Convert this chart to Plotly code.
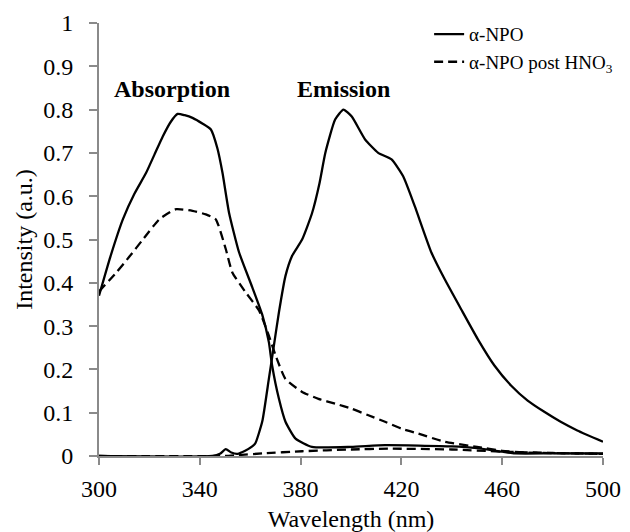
import plotly.graph_objects as go

# Absorption spectra
abs_x = [300, 304.5, 309.5, 314, 318.7, 322, 325.3, 328.5, 331.2, 334, 337.1, 341, 344.4, 347, 349, 351.6, 355.6, 360.8, 364.8, 367.4, 368.7, 371.4, 374, 378, 384.5, 400, 413.5, 440, 450, 460, 465, 480, 500]
abs_solid = [0.37, 0.46, 0.547, 0.605, 0.654, 0.696, 0.738, 0.772, 0.79, 0.787, 0.781, 0.768, 0.754, 0.71, 0.654, 0.562, 0.47, 0.39, 0.326, 0.263, 0.209, 0.132, 0.079, 0.040, 0.021, 0.021, 0.025, 0.022, 0.018, 0.010, 0.006, 0.006, 0.006]

absd_x = [300, 306.9, 312, 317.4, 324, 330.6, 337.1, 342.4, 346.3, 350.3, 352.9, 358.2, 363.5, 367.4, 370.1, 374, 380.6, 387.1, 393.7, 400.3, 406.9, 413.5, 420.1, 426.6, 437, 450, 460, 470, 500]
abs_dashed = [0.38, 0.424, 0.46, 0.50, 0.547, 0.57, 0.566, 0.558, 0.547, 0.478, 0.424, 0.378, 0.336, 0.278, 0.232, 0.178, 0.148, 0.132, 0.121, 0.109, 0.094, 0.079, 0.063, 0.052, 0.033, 0.021, 0.012, 0.008, 0.005]

# Emission spectra
em_x = [300, 345, 348, 350.3, 352.5, 355, 358, 360.8, 362.1, 364.8, 367.4, 369.4, 371.4, 374, 376.6, 380.6, 384.5, 387.5, 389.8, 393.7, 397, 400.3, 405.6, 410.8, 416.1, 420.7, 425.3, 431.9, 437.2, 443.7, 450.3, 456.9, 463.5, 470.1, 476.7, 483.2, 489.8, 500]
em_solid = [0.0, 0.0, 0.005, 0.016, 0.008, 0.005, 0.012, 0.022, 0.03, 0.08, 0.178, 0.255, 0.332, 0.416, 0.462, 0.5, 0.56, 0.63, 0.70, 0.777, 0.80, 0.784, 0.731, 0.70, 0.685, 0.646, 0.577, 0.47, 0.408, 0.339, 0.27, 0.209, 0.163, 0.128, 0.102, 0.079, 0.059, 0.033]

emd_x = [300, 350, 355, 365, 380.6, 400, 414.8, 440, 460, 480, 500]
em_dashed = [0.0, 0.0, 0.002, 0.006, 0.011, 0.015, 0.017, 0.015, 0.010, 0.007, 0.005]

x_ticks = [300, 340, 380, 420, 460, 500]
y_ticks = [0, 0.1, 0.2, 0.3, 0.4, 0.5, 0.6, 0.7, 0.8, 0.9, 1]
y_tick_text = ["0", "0.1", "0.2", "0.3", "0.4", "0.5", "0.6", "0.7", "0.8", "0.9", "1"]

label_solid = "α-NPO"
label_dashed = "α-NPO post HNO<sub>3</sub>"

FONT = "Liberation Serif, Times New Roman, serif"
AXC = "#8a8a8a"
LW = 2.3
SM = 0.5
DASH = "9px,5px"

fig = go.Figure()
fig.add_trace(go.Scatter(x=abs_x, y=abs_solid, mode="lines", name=label_solid,
                         line=dict(color="black", width=LW, shape="spline", smoothing=SM),
                         legendgroup="s"))
fig.add_trace(go.Scatter(x=em_x, y=em_solid, mode="lines", name=label_solid, showlegend=False,
                         line=dict(color="black", width=LW, shape="spline", smoothing=SM),
                         legendgroup="s"))
fig.add_trace(go.Scatter(x=absd_x, y=abs_dashed, mode="lines", name=label_dashed,
                         line=dict(color="black", width=LW, dash=DASH, shape="spline", smoothing=SM),
                         legendgroup="d"))
fig.add_trace(go.Scatter(x=emd_x, y=em_dashed, mode="lines", name=label_dashed, showlegend=False,
                         line=dict(color="black", width=LW, dash=DASH, shape="spline", smoothing=SM),
                         legendgroup="d"))

fig.add_annotation(x=328.8, y=0.848, text="<b>Absorption</b>", showarrow=False,
                   font=dict(family=FONT, size=24, color="black"))
fig.add_annotation(x=396.9, y=0.848, text="<b>Emission</b>", showarrow=False,
                   font=dict(family=FONT, size=24, color="black"))

fig.update_layout(
    width=630, height=532,
    margin=dict(l=99, r=24, t=23, b=76),
    paper_bgcolor="white", plot_bgcolor="white",
    font=dict(family=FONT, size=24, color="black"),
    showlegend=True,
    legend=dict(x=0.655, y=1.018, xanchor="left", yanchor="top",
                font=dict(family=FONT, size=19, color="black"),
                bgcolor="rgba(0,0,0,0)", itemwidth=30, tracegroupgap=0),
    xaxis=dict(range=[300, 500], tickvals=x_ticks, showgrid=False, zeroline=False,
               showline=True, linecolor=AXC, linewidth=1.8, ticks="outside",
               tickcolor=AXC, ticklen=7, tickwidth=1.5, automargin=False,
               ticklabelstandoff=3,
               title=dict(text="Wavelength (nm)", standoff=9, font=dict(size=24)),
               tickfont=dict(size=24)),
    yaxis=dict(range=[0, 1], tickvals=y_ticks, ticktext=y_tick_text, showgrid=False, zeroline=False,
               showline=True, linecolor=AXC, linewidth=1.8, ticks="outside",
               tickcolor=AXC, ticklen=8, tickwidth=1.5, automargin=False,
               ticklabelstandoff=11,
               title=dict(text="Intensity (a.u.)", standoff=4, font=dict(size=24)),
               tickfont=dict(size=24)),
)

fig.write_html("out.html", config={"displayModeBar": False},
               post_script="document.body.style.margin='0px';")
